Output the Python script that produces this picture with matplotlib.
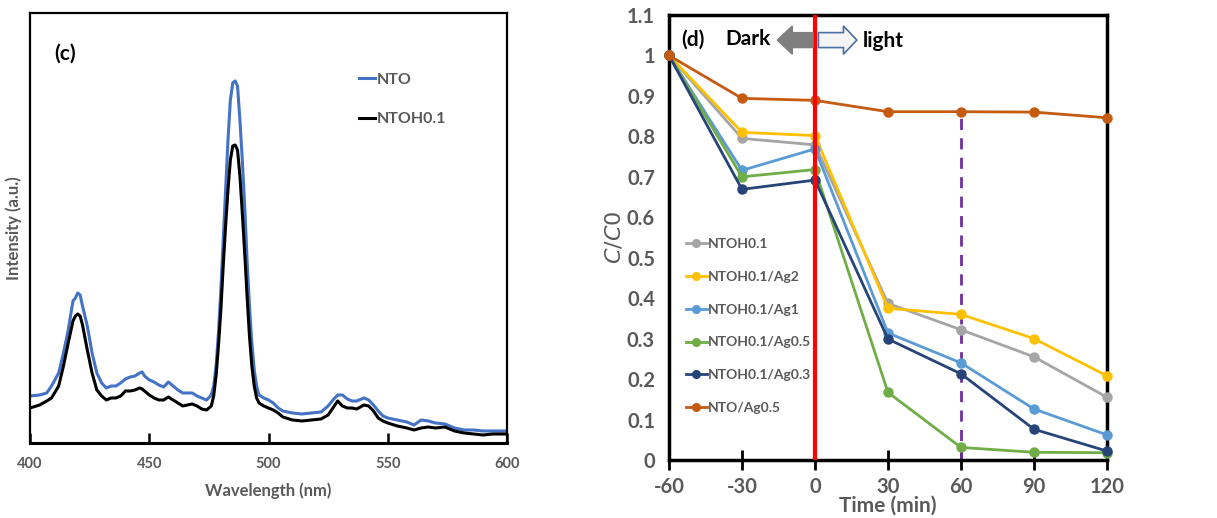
import matplotlib
matplotlib.use("Agg")
import matplotlib.pyplot as plt
from matplotlib.patches import FancyArrow

plt.rcParams['font.family'] = ['Lato', 'DejaVu Sans']
plt.rcParams['axes.unicode_minus'] = False

# ---- panel (c): PL spectra ----
wl = [400, 404, 407, 409, 412, 414, 416, 418, 419, 420, 421, 422, 424, 426, 428,
      430, 432, 434, 436, 438, 440, 442, 444, 446, 447, 448, 450, 452, 454, 456,
      458, 460, 462, 464, 466, 468, 470, 472, 474, 476, 477, 478, 479, 480, 481,
      482, 483, 484, 485, 486, 487, 488, 489, 490, 491, 492, 493, 494, 495, 496,
      498, 500, 502, 504, 506, 510, 514, 518, 522, 525, 527, 529, 531, 533, 535,
      537, 540, 542, 544, 546, 548, 550, 554, 558, 561, 564, 567, 570, 574, 578,
      582, 586, 590, 594, 600]
nto = [47, 48, 50, 57, 70, 90, 113, 142, 145, 150, 148, 137, 117, 90, 70,
       60, 55, 57, 57, 60, 64, 66, 67, 70, 71, 67, 63, 61, 58, 56,
       61, 57, 53, 50, 50, 50, 47, 45, 43, 48, 57, 77, 110, 153, 203,
       253, 303, 343, 360, 362, 357, 323, 283, 237, 183, 137, 100, 73, 57, 48,
       45, 43, 40, 35, 32, 30, 29, 30, 31, 37, 43, 48, 48, 44, 42,
       42, 45, 43, 38, 32, 27, 25, 23, 21, 18, 23, 22, 20, 19, 15,
       13, 13, 12, 12, 12]
ntoh = [35, 38, 42, 45, 57, 77, 100, 122, 127, 129, 127, 118, 93, 70, 53,
        47, 43, 45, 45, 47, 52, 52, 53, 55, 54, 52, 48, 45, 43, 43,
        46, 43, 40, 37, 38, 39, 37, 34, 33, 37, 47, 67, 97, 133, 177,
        217, 253, 283, 297, 298, 293, 267, 230, 190, 147, 107, 77, 57, 45, 40,
        37, 35, 33, 30, 26, 23, 22, 23, 24, 28, 35, 42, 37, 35, 35,
        34, 38, 37, 32, 25, 22, 20, 17, 15, 13, 15, 16, 15, 16, 12,
        10, 9, 8, 9, 9]

# ---- panel (d): C/C0 vs time ----
time = [-60, -30, 0, 30, 60, 90, 120]
series_names = ["NTOH0.1", "NTOH0.1/Ag2", "NTOH0.1/Ag1", "NTOH0.1/Ag0.5",
                "NTOH0.1/Ag0.3", "NTO/Ag0.5"]
ntoh01 = [1, 0.795, 0.779, 0.387, 0.322, 0.255, 0.155]
ag2 = [1, 0.810, 0.802, 0.375, 0.360, 0.300, 0.208]
ag1 = [1, 0.716, 0.769, 0.314, 0.240, 0.126, 0.062]
ag05 = [1, 0.700, 0.718, 0.167, 0.031, 0.019, 0.018]
ag03 = [1, 0.669, 0.692, 0.299, 0.213, 0.076, 0.022]
nto_ag05 = [1, 0.894, 0.889, 0.861, 0.861, 0.860, 0.846]
series_colors = ["#a5a5a5", "#ffc000", "#5b9bd5", "#70ad47", "#264478", "#c55a11"]

gray = "#595959"

fig = plt.figure(figsize=(12.17, 5.18), dpi=100)

# left panel
ax1 = fig.add_axes([0.0247, 0.1448, 0.3919, 0.8302])
ax1.plot(wl, nto, color="#4472c4", lw=2.2, label="NTO")
ax1.plot(wl, ntoh, color="black", lw=2.2, label="NTOH0.1")
ax1.set_xlim(400, 600)
ax1.set_ylim(0, 430)
ax1.set_xticks([400, 450, 500, 550, 600])
ax1.set_yticks([])
ax1.tick_params(axis="x", direction="in", length=7, width=1.8, colors="black",
                labelcolor=gray, labelsize=10.5, pad=10)
for lab in ax1.get_xticklabels():
    lab.set_fontweight("bold")
for s in ax1.spines.values():
    s.set_linewidth(1.6)
ax1.spines["bottom"].set_linewidth(2.2)
ax1.set_xlabel("Wavelength (nm)", fontsize=12, fontweight="bold", color=gray, labelpad=8)
ax1.set_ylabel("Intensity (a.u.)", fontsize=12, fontweight="bold", color=gray, labelpad=6)
ax1.text(0.05, 0.905, "(c)", transform=ax1.transAxes, fontsize=15, fontweight="bold",
         va="center")
leg1 = ax1.legend(loc="upper left", bbox_to_anchor=(0.66, 0.895), frameon=False,
                  handlelength=1.0, handletextpad=0.1, labelspacing=1.6,
                  prop={"size": 11.5, "weight": "bold"})
for t in leg1.get_texts():
    t.set_color(gray)

# right panel
ax2 = fig.add_axes([0.5497, 0.112, 0.3599, 0.859])
series = [ntoh01, ag2, ag1, ag05, ag03, nto_ag05]
for name, vals, col in zip(series_names, series, series_colors):
    ax2.plot(time, vals, color=col, lw=2, marker="o", markersize=6.5, label=name,
             clip_on=False, zorder=3)
ax2.axvline(0, color="red", lw=3, zorder=4)
ax2.plot([60, 60], [0, nto_ag05[4]], color="#7030a0", lw=2, ls=(0, (4, 3)), zorder=2)
ax2.set_xlim(-60, 120)
ax2.set_ylim(0, 1.1)
ax2.set_xticks(time)
yt = [0, 0.1, 0.2, 0.3, 0.4, 0.5, 0.6, 0.7, 0.8, 0.9, 1.0, 1.1]
ax2.set_yticks(yt)
ax2.set_yticklabels(["0", "0.1", "0.2", "0.3", "0.4", "0.5", "0.6", "0.7", "0.8",
                     "0.9", "1", "1.1"])
ax2.tick_params(axis="x", direction="inout", length=14, width=2, colors="black",
                labelcolor=gray, labelsize=14.5, pad=5)
ax2.tick_params(axis="y", length=0, labelcolor=gray, labelsize=14.5, pad=10)
for lab in ax2.get_xticklabels() + ax2.get_yticklabels():
    lab.set_fontweight("bold")
for s in ax2.spines.values():
    s.set_linewidth(2.5)
ax2.set_xlabel("Time (min)", fontsize=15, fontweight="bold", color=gray, labelpad=-1)
ax2.set_ylabel("$C/C0$", fontsize=16, color=gray, labelpad=2)

ax2.add_patch(FancyArrow(-0.8, 1.038, -8.5, 0, width=0.037, head_width=0.07,
                         head_length=6.2, length_includes_head=False,
                         facecolor="#7f7f7f", edgecolor="#7f7f7f", zorder=5))
ax2.add_patch(FancyArrow(1.4, 1.038, 10.3, 0, width=0.037, head_width=0.07,
                         head_length=5.5, length_includes_head=False,
                         facecolor="#f4f4f4", edgecolor="#4a6fa5", lw=1.2, zorder=5))
ax2.text(-54.8, 1.038, "(d)", fontsize=15, fontweight="bold", va="center")
ax2.text(-37, 1.04, "Dark", fontsize=15, fontweight="bold", va="center")
ax2.text(19.5, 1.036, "light", fontsize=15, fontweight="bold", va="center")

leg2 = ax2.legend(loc="upper left", bbox_to_anchor=(0.01, 0.527), frameon=False,
                  handlelength=1.5, handletextpad=0.1, labelspacing=1.5,
                  prop={"size": 10, "weight": "bold"}, markerscale=0.85)
for t in leg2.get_texts():
    t.set_color(gray)

fig.savefig("out.png", dpi=100)
